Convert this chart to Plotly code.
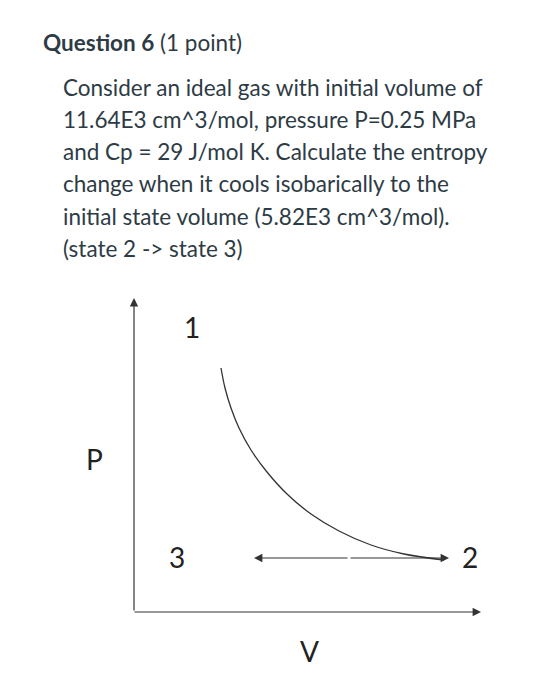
import plotly.graph_objects as go

# question text
title_bold = "Question 6"
title_rest = " (1 point)"
question_lines = [
    "Consider an ideal gas with initial volume of",
    "11.64E3 cm^3/mol, pressure P=0.25 MPa",
    "and Cp = 29 J/mol K. Calculate the entropy",
    "change when it cools isobarically to the",
    "initial state volume (5.82E3 cm^3/mol).",
    "(state 2 -> state 3)",
]

# P-V sketch (page pixel units)
curve_v = [222, 226, 232, 240, 252, 268, 288, 312, 340, 372, 405, 445]
curve_p = [368, 388, 408, 428, 450, 472, 494, 514, 531, 545, 554, 560]
state_labels = ["1", "3", "2"]
state_v = [193, 178, 471]
state_p = [327, 557, 557]

FONT = "Lato, 'Open Sans', sans-serif"
INK = "#2d3b45"

fig = go.Figure()
fig.add_trace(go.Scatter(x=curve_v, y=curve_p, mode="lines",
                         line=dict(color="#333", width=1.3, shape="spline"),
                         hoverinfo="skip"))

ann = []
ann.append(dict(x=42, y=42, text="<b>" + title_bold + "</b>" + title_rest,
                showarrow=False, xanchor="left", yanchor="middle",
                font=dict(size=22.5, color=INK, family=FONT)))
for i, line in enumerate(question_lines):
    ann.append(dict(x=62, y=87 + i * 32.3, text=line, showarrow=False,
                    xanchor="left", yanchor="middle",
                    font=dict(size=22.5, color=INK, family=FONT)))

for lab, v, p in zip(state_labels, state_v, state_p):
    ann.append(dict(x=v, y=p, text=lab, showarrow=False,
                    font=dict(size=28, color="#222", family=FONT)))
ann.append(dict(x=95, y=459, text="P", showarrow=False,
                font=dict(size=28, color="#222", family=FONT)))
ann.append(dict(x=310, y=651, text="V", showarrow=False,
                font=dict(size=28, color="#222", family=FONT)))

arrow = dict(showarrow=True, arrowhead=2, arrowsize=1.4, arrowwidth=1.2,
             arrowcolor="#333", xref="x", yref="y", axref="x", ayref="y", text="")
# axes arrows
ann.append(dict(arrow, x=135, y=298, ax=135, ay=612))
ann.append(dict(arrow, x=482, y=612, ax=134, ay=612))
# isobaric double arrow 3 <-> 2
ann.append(dict(arrow, x=450, y=558, ax=350, ay=558))
ann.append(dict(arrow, x=255, y=558, ax=350, ay=558))

# ranges shifted to offset the page's body margin
fig.update_layout(
    width=542, height=700, margin=dict(l=0, r=0, t=0, b=0),
    paper_bgcolor="white", plot_bgcolor="white", showlegend=False,
    xaxis=dict(range=[9, 551], visible=False, fixedrange=True),
    yaxis=dict(range=[708, 8], visible=False, fixedrange=True),
    annotations=ann,
)
fig.write_html("out.html")
